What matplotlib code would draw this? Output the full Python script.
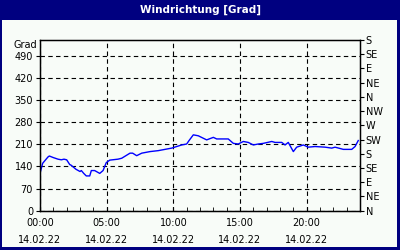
import matplotlib
matplotlib.use("Agg")
import matplotlib.pyplot as plt
import matplotlib.patches as mpatches

# Wind direction over the day (hours since 00:00, degrees)
hours = [0.05, 0.2, 0.6, 0.7, 1.0, 1.35, 1.6, 1.8, 2.0, 2.23, 2.33, 2.7, 3.0,
         3.1, 3.28, 3.47, 3.73, 3.85, 4.1, 4.48, 4.73, 4.97, 5.23, 5.85, 6.13,
         6.75, 6.95, 7.25, 7.63, 8.25, 8.87, 9.5, 9.88, 10.25, 10.63, 11.0,
         11.18, 11.5, 11.87, 12.5, 13.0, 13.25, 14.12, 14.5, 14.87, 15.25,
         15.62, 16.0, 16.37, 16.75, 17.38, 17.63, 18.13, 18.38, 18.62, 19.0,
         19.25, 19.75, 20.12, 20.63, 21.38, 21.88, 22.13, 22.75, 23.38, 23.63,
         23.87]
direction = [126, 150, 170, 173, 168, 163, 161, 163, 161, 146, 144, 131, 124,
             127, 118, 110, 110, 127, 127, 118, 127, 152, 160, 163, 166,
             182, 182, 174, 182, 187, 190, 195, 198, 203, 208, 211,
             222, 240, 237, 224, 232, 227, 227, 213, 211, 219,
             216, 208, 211, 213, 219, 216, 216, 208, 216, 187,
             201, 208, 201, 203, 201, 198, 201, 194, 194, 203,
             222]

x_ticks = [0, 5, 10, 15, 20]
x_labels = ["00:00\n14.02.22", "05:00\n14.02.22", "10:00\n14.02.22",
            "15:00\n14.02.22", "20:00\n14.02.22"]
y_ticks = [0, 70, 140, 210, 280, 350, 420, 490]
compass_ticks = list(range(0, 541, 45))
compass_labels = ["N", "NE", "E", "SE", "S", "SW", "W", "NW",
                  "N", "NE", "E", "SE", "S"]

navy = "#000080"
panel = "#F8FCF8"

fig = plt.figure(figsize=(4, 2.5), dpi=100)
fig.patch.set_facecolor(navy)

# light panel inside the navy frame, title bar on top
fig.add_artist(mpatches.Rectangle((2 / 400, 3 / 250), 395 / 400, 227 / 250,
                                  transform=fig.transFigure,
                                  facecolor=panel, edgecolor="none", zorder=0))
fig.text(0.5, 1 - 10 / 250, "Windrichtung [Grad]", color="white",
         fontsize=7.5, fontweight="bold", ha="center", va="center")

ax = fig.add_axes([40 / 400, 1 - 210.7 / 250, 320 / 400, 170.7 / 250])
ax.set_facecolor(panel)
ax.plot(hours, direction, color="#0000FF", linewidth=1)

ax.set_xlim(0, 24)
ax.set_ylim(0, 540)

ax.set_xticks(x_ticks)
ax.set_xticklabels(x_labels, linespacing=1.9)
ax.set_xticks(range(0, 25), minor=True)
ax.tick_params(axis="x", which="both", direction="in", length=3,
               labelsize=7, pad=5, color="black")

ax.set_yticks(y_ticks)
ax.tick_params(axis="y", direction="out", length=3, labelsize=7, pad=2)

ax.grid(True, color="black", linestyle=(0, (4, 3)), linewidth=0.8)
for s in ax.spines.values():
    s.set_color("black")
    s.set_linewidth(1)

fig.text(37 / 400, 1 - 45 / 250, "Grad", fontsize=7, ha="right", va="center")

ax2 = ax.twinx()
ax2.set_ylim(0, 540)
ax2.set_yticks(compass_ticks)
ax2.set_yticklabels(compass_labels)
ax2.tick_params(axis="y", direction="out", length=3, labelsize=7, pad=1)

fig.savefig("out.png", dpi=100, facecolor=fig.get_facecolor())
